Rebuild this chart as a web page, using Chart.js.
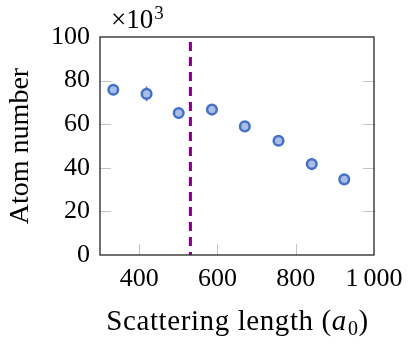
<!DOCTYPE html>
<html>
<head>
<meta charset="utf-8">
<script src="https://cdn.jsdelivr.net/npm/chart.js@4.4.1/dist/chart.umd.min.js"></script>
<style>
  html, body { margin: 0; padding: 0; background: #ffffff; }
  #wrap { width: 414px; height: 346px; position: relative; }
</style>
</head>
<body>
<div id="wrap"><canvas id="c" width="414" height="346"></canvas></div>
<script>
// ---- data (values in units of 10^3 atoms) ----
const scatteringLength = [334, 419, 501, 586, 670, 756, 841, 924];
const atomNumber       = [75.8, 73.9, 65.1, 66.7, 59.0, 52.4, 41.7, 34.7];
const atomError        = [1.5, 3.4, 1.8, 1.5, 1.5, 1.5, 1.5, 1.5];
const thresholdX       = [531, 531];
const thresholdY       = [97.7, 0];
const xTickValues      = [400, 600, 800, 1000];
const xTickLabels      = ['400', '600', '800', '1\u2009000'];
const yTickValues      = [0, 20, 40, 60, 80, 100];
const yTickLabels      = ['0', '20', '40', '60', '80', '100'];

const FONT = '"Liberation Serif", "DejaVu Serif", serif';
const markerBorder = '#4470c6';
const markerFill = '#a8bde8';

const points = scatteringLength.map((x, i) => ({ x: x, y: atomNumber[i] }));
const vline = thresholdX.map((x, i) => ({ x: x, y: thresholdY[i] }));

const extras = {
  id: 'extras',
  beforeDatasetsDraw(chart) {
    const ctx = chart.ctx;
    const xs = chart.scales.x, ys = chart.scales.y;
    // error bars
    ctx.save();
    ctx.strokeStyle = markerBorder;
    ctx.lineWidth = 1.5;
    scatteringLength.forEach((x, i) => {
      const px = xs.getPixelForValue(x);
      ctx.beginPath();
      ctx.moveTo(px, ys.getPixelForValue(atomNumber[i] - atomError[i]));
      ctx.lineTo(px, ys.getPixelForValue(atomNumber[i] + atomError[i]));
      ctx.stroke();
    });
    ctx.restore();
  },
  afterDraw(chart) {
    const ctx = chart.ctx;
    const a = chart.chartArea;
    const xs = chart.scales.x, ys = chart.scales.y;
    ctx.save();
    // inward tick marks
    ctx.strokeStyle = '#c4c4c4';
    ctx.lineWidth = 1;
    const tl = 11;
    xTickValues.forEach(v => {
      if (v <= xs.min || v >= xs.max) return;
      const px = Math.round(xs.getPixelForValue(v)) + 0.5;
      ctx.beginPath(); ctx.moveTo(px, a.bottom); ctx.lineTo(px, a.bottom - tl); ctx.stroke();
    });
    yTickValues.forEach(v => {
      if (v <= ys.min || v >= ys.max) return;
      const py = Math.round(ys.getPixelForValue(v)) + 0.5;
      ctx.beginPath(); ctx.moveTo(a.left, py); ctx.lineTo(a.left + tl, py); ctx.stroke();
      ctx.beginPath(); ctx.moveTo(a.right, py); ctx.lineTo(a.right - tl, py); ctx.stroke();
    });
    // axis box
    ctx.strokeStyle = '#222222';
    ctx.lineWidth = 1.3;
    ctx.strokeRect(a.left, a.top, a.right - a.left, a.bottom - a.top);
    // x axis title
    ctx.fillStyle = '#000000';
    ctx.textBaseline = 'alphabetic';
    ctx.letterSpacing = '0.6px';
    const cx = (a.left + a.right) / 2;
    const base = 330;
    const f1 = '29px ' + FONT, f2 = 'italic 29px ' + FONT, f3 = '20px ' + FONT;
    const p1 = 'Scattering length (', p2 = 'a', p3 = '0', p4 = ')';
    ctx.font = f1; const w1 = ctx.measureText(p1).width, w4 = ctx.measureText(p4).width;
    ctx.font = f2; const w2 = ctx.measureText(p2).width;
    ctx.font = f3; const w3 = ctx.measureText(p3).width;
    let x0 = cx - (w1 + w2 + w3 + w4) / 2;
    ctx.textAlign = 'left';
    ctx.font = f1; ctx.fillText(p1, x0, base); x0 += w1;
    ctx.font = f2; ctx.fillText(p2, x0, base); x0 += w2 + 1;
    ctx.font = f3; ctx.fillText(p3, x0, base + 5); x0 += w3;
    ctx.font = f1; ctx.fillText(p4, x0, base);
    ctx.letterSpacing = '0px';
    // x10^3 multiplier
    ctx.font = '27px ' + FONT;
    ctx.fillText('\u00d710', 111, 28);
    const wm = ctx.measureText('\u00d710').width;
    ctx.font = '19px ' + FONT;
    ctx.fillText('3', 111 + wm + 1, 19);
    ctx.restore();
  }
};

new Chart(document.getElementById('c'), {
  type: 'scatter',
  data: {
    datasets: [
      {
        label: 'Atom number',
        data: points,
        pointRadius: 4.8,
        pointHoverRadius: 4.8,
        borderWidth: 2.5,
        pointBorderWidth: 2.5,
        borderColor: markerBorder,
        backgroundColor: markerFill,
        pointBackgroundColor: markerFill,
        pointBorderColor: markerBorder,
        order: 1
      },
      {
        type: 'line',
        label: 'threshold',
        data: vline,
        showLine: true,
        borderColor: '#800080',
        borderWidth: 3,
        borderDash: [9, 6],
        pointRadius: 0,
        fill: false,
        order: 2
      }
    ]
  },
  options: {
    responsive: false,
    animation: false,
    devicePixelRatio: 1,
    layout: { padding: { left: 0, right: 40, top: 37, bottom: 0 } },
    plugins: { legend: { display: false }, tooltip: { enabled: false } },
    scales: {
      x: {
        type: 'linear',
        min: 300, max: 1000,
        grid: { display: false, drawTicks: false },
        border: { display: false },
        afterBuildTicks: s => { s.ticks = xTickValues.map(v => ({ value: v })); },
        afterFit: s => { s.height = 91; },
        ticks: {
          autoSkip: false,
          maxRotation: 0,
          padding: 9,
          color: '#000000',
          font: { family: FONT, size: 26 },
          callback: (v) => { const i = xTickValues.indexOf(v); return i >= 0 ? xTickLabels[i] : ''; }
        }
      },
      y: {
        type: 'linear',
        min: 0, max: 100,
        grid: { display: false, drawTicks: false },
        border: { display: false },
        afterBuildTicks: s => { s.ticks = yTickValues.map(v => ({ value: v })); },
        afterFit: s => { s.width = 100; },
        title: {
          display: true,
          text: 'Atom number',
          color: '#000000',
          font: { family: FONT, size: 28 },
          padding: { top: 4, bottom: 0 }
        },
        ticks: {
          autoSkip: false,
          padding: 10,
          color: '#000000',
          font: { family: FONT, size: 26 },
          callback: (v) => { const i = yTickValues.indexOf(v); return i >= 0 ? yTickLabels[i] : ''; }
        }
      }
    }
  },
  plugins: [extras]
});
</script>
</body>
</html>
